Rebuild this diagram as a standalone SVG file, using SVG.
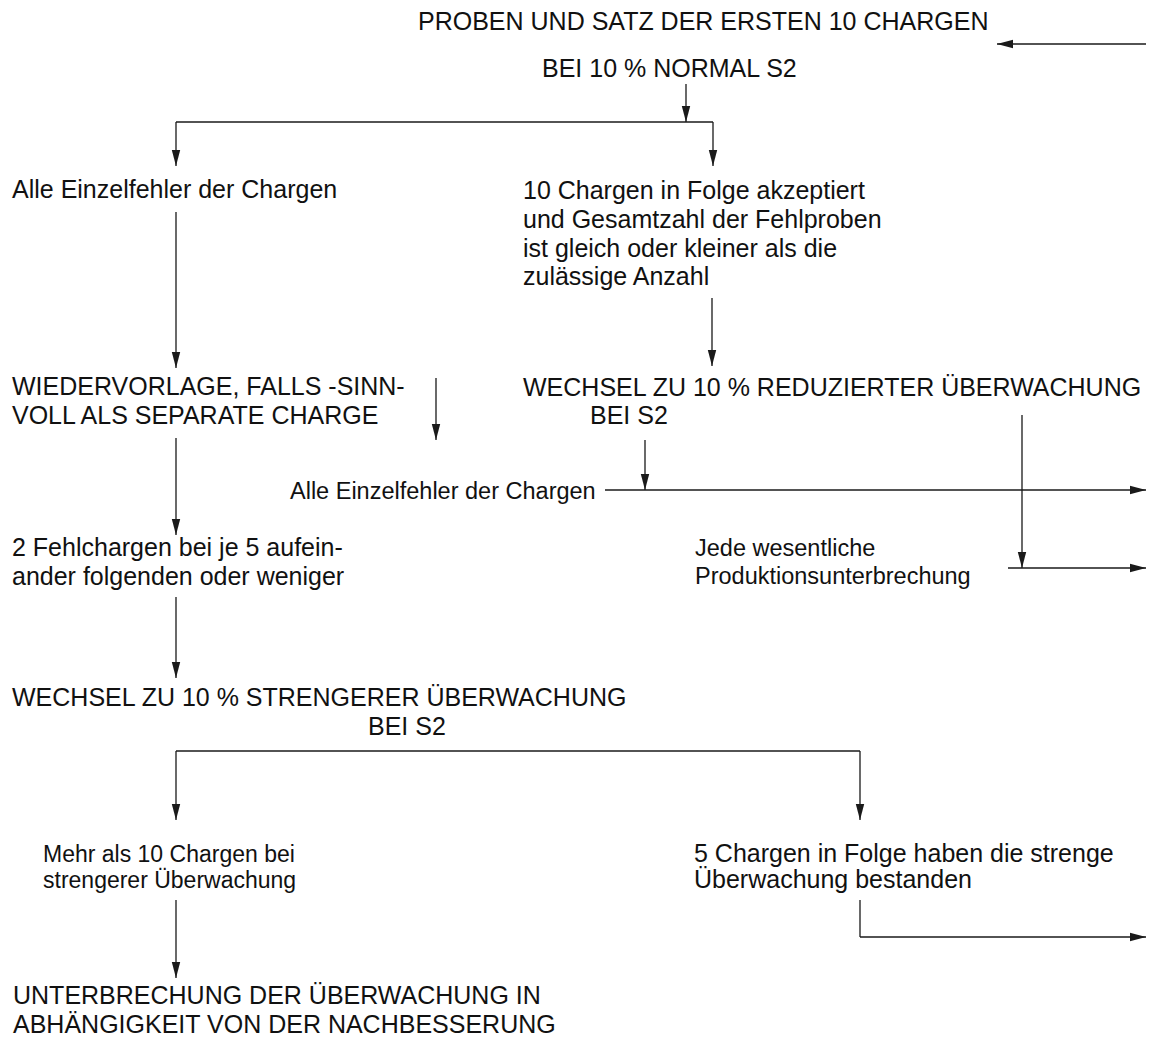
<svg xmlns="http://www.w3.org/2000/svg" width="1159" height="1048" viewBox="0 0 1159 1048">
<style>
text{font-family:"Liberation Sans",Arial,sans-serif;font-size:25px;fill:#111}
.s{font-size:23.5px}
.m{font-size:23px}
.c line,.c path{stroke:#1a1a1a;stroke-width:1.3;fill:none}
</style>
<defs>
<marker id="a" markerUnits="userSpaceOnUse" markerWidth="16" markerHeight="10" refX="16" refY="5" orient="auto">
<path d="M0,0.8 L16,5 L0,9.2 Z" fill="#1a1a1a"/>
</marker>
</defs>
<rect width="1159" height="1048" fill="#fff"/>
<g id="n-title"><text x="418" y="30">PROBEN UND SATZ DER ERSTEN 10 CHARGEN</text><text x="542" y="77">BEI 10 % NORMAL S2</text></g>
<g id="n-alle1"><text x="12" y="198">Alle Einzelfehler der Chargen</text></g>
<g id="n-10chargen"><text x="523" y="199">10 Chargen in Folge akzeptiert</text><text x="523" y="228">und Gesamtzahl der Fehlproben</text><text x="523" y="257">ist gleich oder kleiner als die</text><text x="523" y="285">zulässige Anzahl</text></g>
<g id="n-wiedervorlage"><text x="12" y="395">WIEDERVORLAGE, FALLS -SINN-</text><text x="12" y="424">VOLL ALS SEPARATE CHARGE</text></g>
<g id="n-reduziert"><text x="523" y="396">WECHSEL ZU 10 % REDUZIERTER ÜBERWACHUNG</text><text x="590" y="424">BEI S2</text></g>
<g id="n-alle2"><text class="s" x="290" y="499">Alle Einzelfehler der Chargen</text></g>
<g id="n-fehlchargen"><text x="12" y="556">2 Fehlchargen bei je 5 aufein-</text><text x="12" y="585">ander folgenden oder weniger</text></g>
<g id="n-produktion"><text class="s" x="695" y="556">Jede wesentliche</text><text class="s" x="695" y="584">Produktionsunterbrechung</text></g>
<g id="n-strenger"><text x="12" y="706">WECHSEL ZU 10 % STRENGERER ÜBERWACHUNG</text><text x="368" y="735">BEI S2</text></g>
<g id="n-mehr"><text class="m" x="43" y="862">Mehr als 10 Chargen bei</text><text class="m" x="43" y="888">strengerer Überwachung</text></g>
<g id="n-5chargen"><text x="694" y="862">5 Chargen in Folge haben die strenge</text><text x="694" y="888">Überwachung bestanden</text></g>
<g id="n-unterbrechung"><text x="13" y="1004">UNTERBRECHUNG DER ÜBERWACHUNG IN</text><text x="13" y="1033">ABHÄNGIGKEIT VON DER NACHBESSERUNG</text></g>
<g id="connectors" class="c">
<line x1="1146" y1="44" x2="997" y2="44" marker-end="url(#a)"/>
<line x1="686" y1="84" x2="686" y2="122" marker-end="url(#a)"/>
<path d="M176,122 H713"/>
<line x1="176" y1="122" x2="176" y2="166" marker-end="url(#a)"/>
<line x1="713" y1="122" x2="713" y2="166" marker-end="url(#a)"/>
<line x1="176" y1="212" x2="176" y2="368" marker-end="url(#a)"/>
<line x1="712" y1="298" x2="712" y2="366" marker-end="url(#a)"/>
<line x1="436" y1="378" x2="436" y2="440" marker-end="url(#a)"/>
<line x1="645" y1="440" x2="645" y2="490" marker-end="url(#a)"/>
<line x1="605" y1="490" x2="1146" y2="490" marker-end="url(#a)"/>
<line x1="1022" y1="415" x2="1022" y2="568" marker-end="url(#a)"/>
<line x1="1008" y1="568" x2="1146" y2="568" marker-end="url(#a)"/>
<line x1="176" y1="438" x2="176" y2="535" marker-end="url(#a)"/>
<line x1="176" y1="597" x2="176" y2="678" marker-end="url(#a)"/>
<path d="M176,751 H860"/>
<line x1="176" y1="751" x2="176" y2="820" marker-end="url(#a)"/>
<line x1="860" y1="751" x2="860" y2="820" marker-end="url(#a)"/>
<line x1="176" y1="900" x2="176" y2="978" marker-end="url(#a)"/>
<path d="M860,900 V937"/>
<line x1="860" y1="937" x2="1146" y2="937" marker-end="url(#a)"/>
</g>
</svg>
